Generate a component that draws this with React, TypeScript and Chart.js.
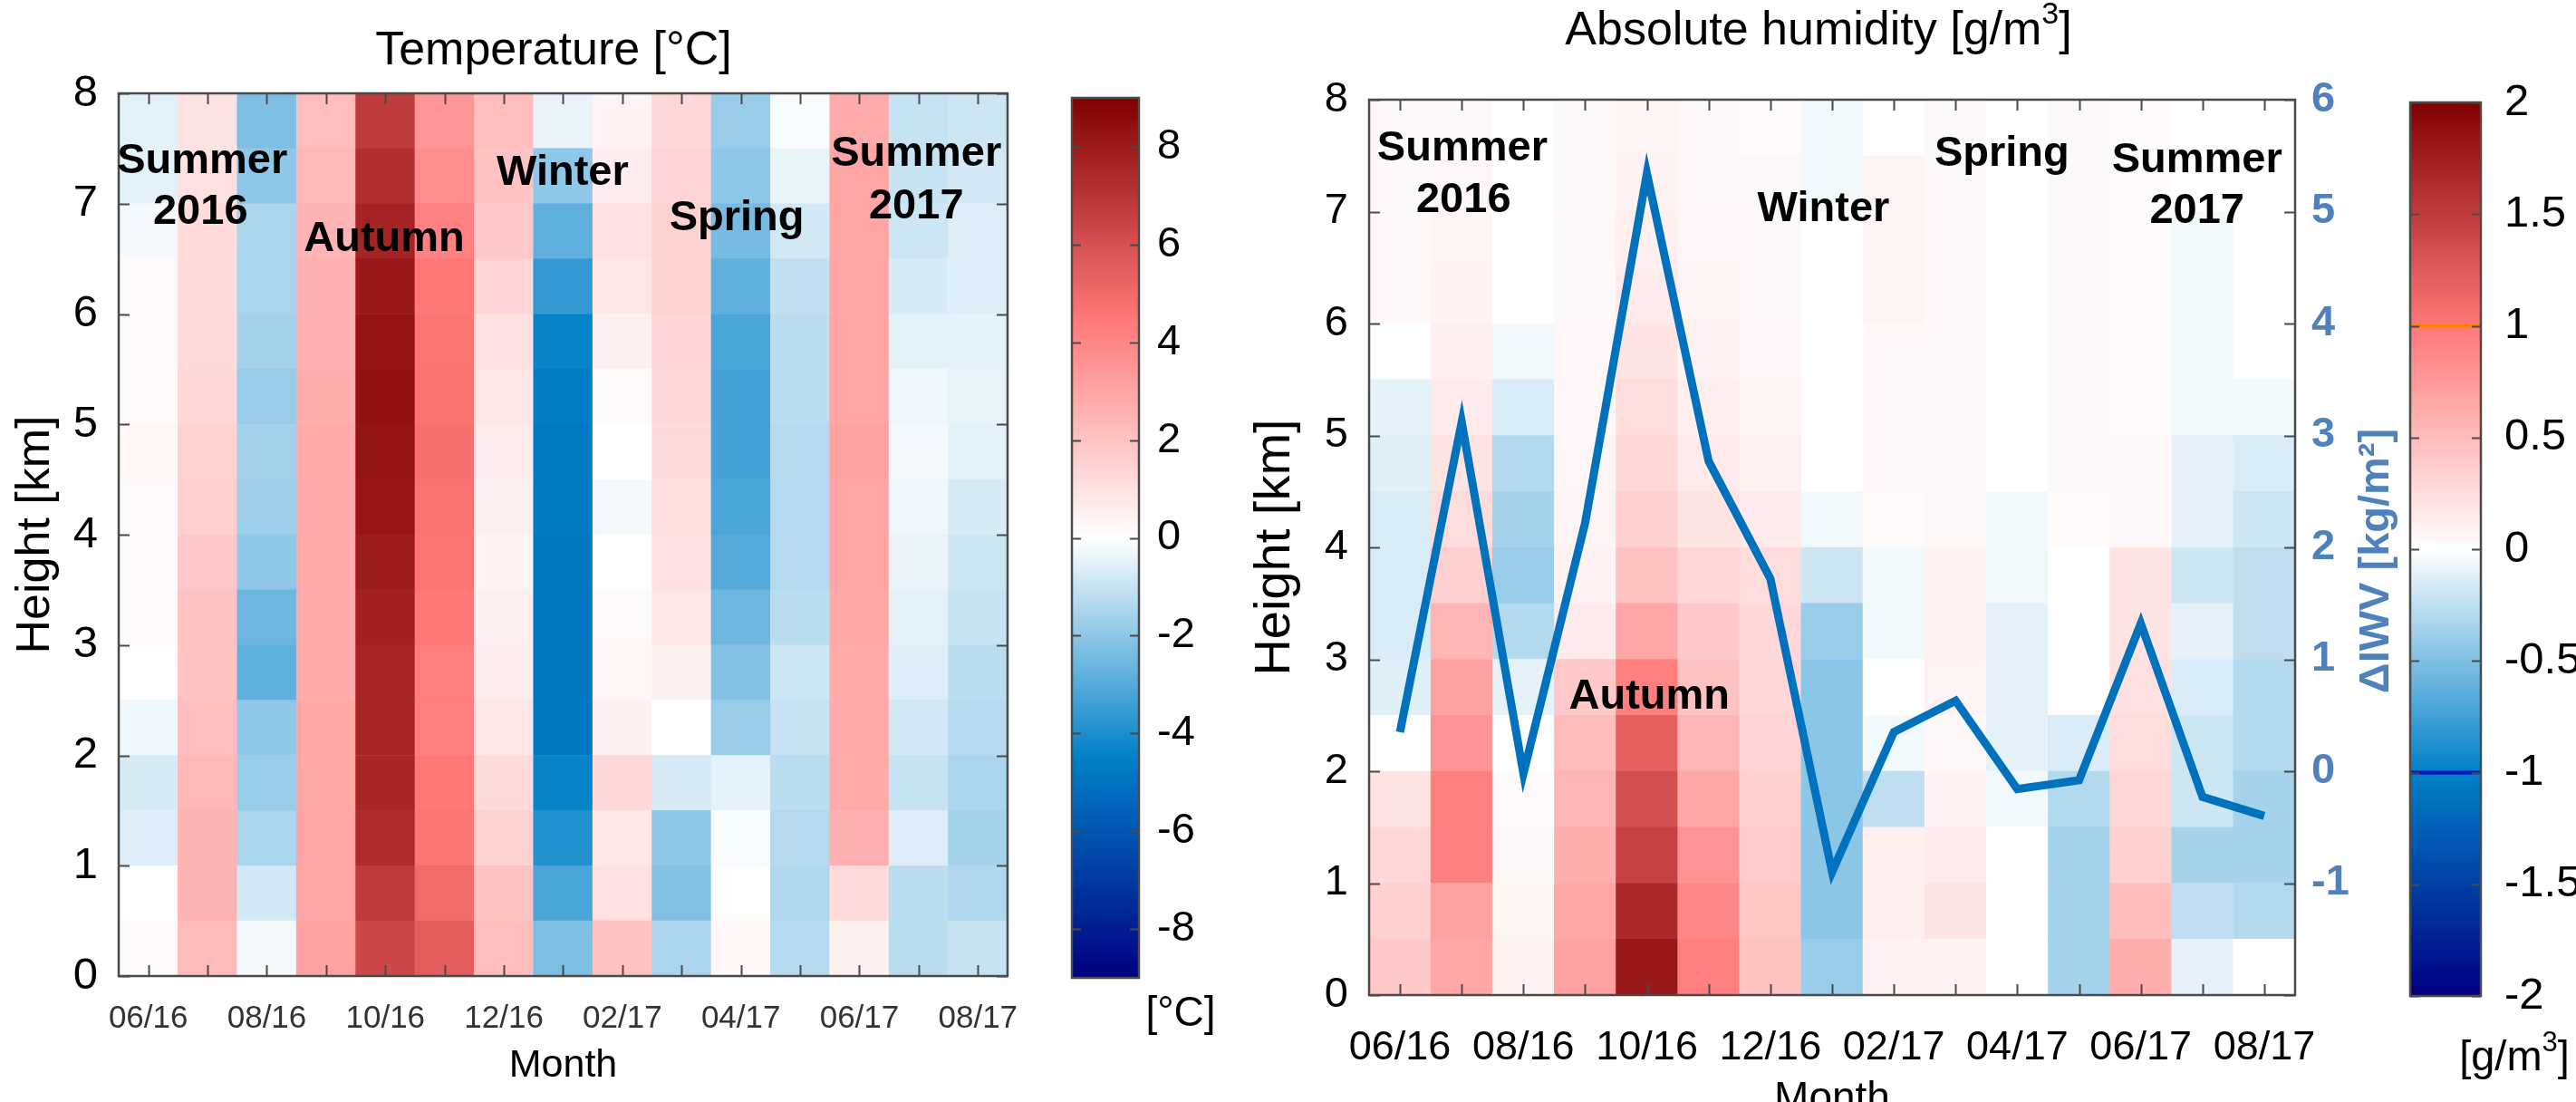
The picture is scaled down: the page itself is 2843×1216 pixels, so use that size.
import React, { useEffect, useRef } from "react";
import { Chart, registerables } from "chart.js";
Chart.register(...registerables);

const FONT = "'Liberation Sans', Arial, Helvetica, sans-serif";

// ---------- categories & axes ----------
const MONTHS = ["06/16", "07/16", "08/16", "09/16", "10/16", "11/16", "12/16", "01/17", "02/17", "03/17", "04/17", "05/17", "06/17", "07/17", "08/17"];
const HEIGHT_EDGES_KM = [0, 0.5, 1, 1.5, 2, 2.5, 3, 3.5, 4, 4.5, 5, 5.5, 6, 6.5, 7, 7.5, 8];
const HEIGHT_TICKS = [0, 1, 2, 3, 4, 5, 6, 7, 8];
const IWV_TICKS = [-2, -1, 0, 1, 2, 3, 4, 5, 6];
const TEMP_CB_TICKS = [-8, -6, -4, -2, 0, 2, 4, 6, 8];
const HUM_CB_TICKS = [-2, -1.5, -1, -0.5, 0, 0.5, 1, 1.5, 2];
const TEMP_LIMIT = 9;
const HUM_LIMIT = 2;

// ---------- temperature anomaly [°C], bins 0-0.5 km ... 7.5-8 km ----------
const T_0616 = [0.2, 0.0, -0.6, -0.7, -0.3, 0.1, 0.2, 0.2, 0.2, 0.3, 0.2, 0.2, 0.2, -0.2, -0.5, -0.5];
const T_0716 = [2.3, 2.5, 2.5, 2.4, 2.2, 2.0, 2.0, 1.8, 1.6, 1.5, 1.3, 1.2, 1.2, 1.2, 1.0, 0.9];
const T_0816 = [-0.2, -0.8, -1.5, -1.8, -2.0, -2.8, -2.6, -2.0, -1.7, -1.6, -1.8, -1.6, -1.5, -1.5, -2.0, -2.3];
const T_0916 = [3.1, 3.0, 3.0, 2.9, 2.9, 2.8, 2.8, 2.8, 2.8, 2.8, 2.7, 2.6, 2.6, 2.5, 2.4, 2.2];
const T_1016 = [6.3, 6.8, 7.4, 7.6, 7.6, 7.6, 7.8, 8.0, 8.2, 8.3, 8.4, 8.3, 8.1, 7.7, 7.2, 6.8];
const T_1116 = [5.5, 5.0, 4.6, 4.5, 4.3, 4.3, 4.5, 4.6, 4.7, 4.8, 4.7, 4.6, 4.5, 4.2, 3.8, 3.5];
const T_1216 = [2.2, 2.0, 1.5, 1.2, 0.8, 0.6, 0.5, 0.4, 0.5, 0.6, 0.8, 1.0, 1.4, 1.8, 2.0, 2.2];
const T_0117 = [-2.3, -3.2, -3.9, -4.4, -4.8, -4.8, -4.8, -4.8, -4.7, -4.7, -4.6, -4.4, -3.6, -2.8, -2.0, -0.4];
const T_0217 = [2.0, 1.0, 0.8, 1.3, 0.5, 0.3, 0.2, 0.0, -0.2, 0.0, 0.2, 0.5, 0.8, 1.0, 0.6, 0.4];
const T_0317 = [-1.5, -2.2, -2.0, -0.7, 0.0, 0.5, 0.8, 1.0, 1.1, 1.2, 1.3, 1.4, 1.5, 1.5, 1.4, 1.3];
const T_0417 = [0.3, 0.1, -0.1, -0.5, -1.8, -2.2, -2.6, -3.0, -3.2, -3.3, -3.3, -3.2, -2.8, -2.4, -2.0, -1.8];
const T_0517 = [-1.3, -1.4, -1.3, -1.2, -1.0, -0.9, -1.2, -1.3, -1.3, -1.3, -1.2, -1.2, -1.1, -0.8, -0.4, -0.1];
const T_0617 = [0.5, 1.2, 2.6, 2.8, 2.8, 2.8, 2.9, 3.0, 3.0, 3.1, 3.0, 3.0, 3.0, 3.0, 3.0, 2.8];
const T_0717 = [-1.2, -1.2, -0.6, -1.0, -0.8, -0.6, -0.5, -0.4, -0.3, -0.2, -0.3, -0.5, -0.7, -0.9, -1.0, -1.0];
const T_0817 = [-1.0, -1.4, -1.6, -1.5, -1.3, -1.2, -1.0, -0.9, -0.7, -0.5, -0.4, -0.5, -0.6, -0.6, -0.8, -0.9];
const TEMP_COLUMNS = [T_0616, T_0716, T_0816, T_0916, T_1016, T_1116, T_1216, T_0117, T_0217, T_0317, T_0417, T_0517, T_0617, T_0717, T_0817];

// ---------- absolute humidity anomaly [g/m³] ----------
const H_0616 = [0.4, 0.35, 0.3, 0.2, 0.0, -0.12, -0.15, -0.15, -0.15, -0.12, -0.1, 0.0, 0.05, 0.05, 0.05, 0.05];
const H_0716 = [0.65, 0.7, 0.95, 0.95, 0.8, 0.7, 0.55, 0.35, 0.25, 0.2, 0.15, 0.12, 0.1, 0.08, 0.06, 0.05];
const H_0816 = [0.1, 0.08, 0.05, 0.03, 0.0, -0.1, -0.3, -0.4, -0.35, -0.3, -0.15, -0.05, 0.0, 0.0, 0.0, 0.0];
const H_0916 = [0.7, 0.65, 0.6, 0.55, 0.5, 0.4, 0.15, 0.1, 0.08, 0.06, 0.06, 0.06, 0.05, 0.05, 0.05, 0.05];
const H_1016 = [1.8, 1.65, 1.45, 1.35, 1.2, 0.95, 0.65, 0.45, 0.35, 0.3, 0.25, 0.2, 0.15, 0.12, 0.1, 0.08];
const H_1116 = [0.95, 0.9, 0.8, 0.65, 0.55, 0.45, 0.4, 0.3, 0.2, 0.15, 0.12, 0.1, 0.08, 0.06, 0.05, 0.05];
const H_1216 = [0.45, 0.42, 0.38, 0.35, 0.32, 0.3, 0.28, 0.25, 0.15, 0.1, 0.08, 0.06, 0.05, 0.05, 0.05, 0.03];
const H_0117 = [-0.4, -0.45, -0.45, -0.45, -0.45, -0.45, -0.4, -0.2, -0.05, 0.0, 0.0, 0.0, 0.0, 0.0, -0.05, -0.05];
const H_0217 = [0.1, 0.12, 0.12, -0.25, -0.05, 0.0, -0.05, -0.05, 0.03, 0.05, 0.05, 0.05, 0.08, 0.08, 0.08, 0.0];
const H_0317 = [0.1, 0.2, 0.15, 0.1, 0.05, 0.08, 0.1, 0.1, 0.05, 0.05, 0.05, 0.05, 0.05, 0.05, 0.05, 0.05];
const H_0417 = [0.0, 0.0, 0.0, -0.05, -0.1, -0.1, -0.1, -0.05, -0.05, 0.0, 0.0, 0.0, 0.0, 0.0, 0.0, 0.0];
const H_0517 = [-0.35, -0.35, -0.35, -0.3, -0.15, 0.0, 0.0, 0.0, 0.03, 0.05, 0.05, 0.05, 0.05, 0.05, 0.05, 0.05];
const H_0617 = [0.6, 0.5, 0.35, 0.3, 0.25, 0.22, 0.2, 0.2, 0.05, 0.05, 0.03, 0.03, 0.03, 0.03, 0.03, 0.03];
const H_0717 = [-0.1, -0.25, -0.35, -0.2, -0.2, -0.15, -0.1, -0.2, -0.1, -0.1, -0.05, -0.05, -0.05, -0.05, 0.0, 0.0];
const H_0817 = [0.0, -0.3, -0.35, -0.35, -0.3, -0.3, -0.25, -0.25, -0.2, -0.15, -0.05, 0.0, 0.0, 0.0, 0.0, 0.0];
const HUM_COLUMNS = [H_0616, H_0716, H_0816, H_0916, H_1016, H_1116, H_1216, H_0117, H_0217, H_0317, H_0417, H_0517, H_0617, H_0717, H_0817];

// ---------- ΔIWV [kg/m²] ----------
const IWV_ANOMALY = [0.35, 3.12, -0.02, 2.22, 5.34, 2.77, 1.72, -0.9, 0.35, 0.63, -0.16, -0.08, 1.32, -0.23, -0.4];

// ---------- season annotations (month index, height km) ----------
const TEMP_SEASON_TEXT = ["Summer", "2016", "Autumn", "Winter", "Spring", "Summer", "2017"];
const TEMP_SEASON_MONTH = [0.91, 0.88, 3.98, 6.99, 9.93, 12.96, 12.96];
const TEMP_SEASON_KM = [7.38, 6.92, 6.68, 7.28, 6.87, 7.45, 6.97];
const HUM_SEASON_TEXT = ["Summer", "2016", "Autumn", "Winter", "Spring", "Summer", "2017"];
const HUM_SEASON_MONTH = [1.01, 1.03, 4.04, 6.86, 9.75, 12.91, 12.91];
const HUM_SEASON_KM = [7.56, 7.1, 2.66, 7.02, 7.51, 7.46, 7.0];

// ---------- colormap ----------
const CMAP_POS = [-1, -0.5, 0, 0.5, 1];
const CMAP_RGB = [[0, 0, 128], [0, 128, 200], [255, 255, 255], [255, 120, 120], [128, 0, 0]];
function cmap(t: number): string {
  const v = Math.max(-1, Math.min(1, t));
  let i = 0;
  while (i < CMAP_POS.length - 2 && v > CMAP_POS[i + 1]) i++;
  const f = (v - CMAP_POS[i]) / (CMAP_POS[i + 1] - CMAP_POS[i]);
  const a = CMAP_RGB[i], b = CMAP_RGB[i + 1];
  const c = a.map((x, k) => Math.round(x + (b[k] - x) * f));
  return `rgb(${c[0]},${c[1]},${c[2]})`;
}

function heatDatasets(cols: number[][], limit: number) {
  return HEIGHT_EDGES_KM.slice(0, -1).map((lo, r) => ({
    type: "bar" as const,
    label: `${lo} km`,
    data: cols.map(() => [lo, HEIGHT_EDGES_KM[r + 1]]),
    backgroundColor: cols.map((col) => cmap(col[r] / limit)),
    borderWidth: 0,
    barPercentage: 1,
    categoryPercentage: 1,
    grouped: false,
    yAxisID: "y",
    order: 1,
  }));
}

type Part = { t: string; sup?: boolean };
function drawParts(ctx: CanvasRenderingContext2D, parts: Part[], cx: number, cy: number, size: number, weight: string, color: string, rotation = 0) {
  ctx.save();
  ctx.translate(cx, cy);
  ctx.rotate(rotation);
  ctx.fillStyle = color;
  ctx.textBaseline = "middle";
  ctx.textAlign = "left";
  const supSize = Math.round(size * 0.66);
  const widths = parts.map((p) => {
    ctx.font = `${weight} ${p.sup ? supSize : size}px ${FONT}`;
    return ctx.measureText(p.t).width;
  });
  const total = widths.reduce((s, w) => s + w, 0);
  let x = -total / 2;
  parts.forEach((p, i) => {
    ctx.font = `${weight} ${p.sup ? supSize : size}px ${FONT}`;
    ctx.fillText(p.t, x, p.sup ? -size * 0.36 : 0);
    x += widths[i];
  });
  ctx.restore();
}

const FRAME_COLOR = "#4a4a4a";

function framePlugin(id: string, tickLen: number, withX: boolean) {
  return {
    id,
    afterDatasetsDraw(chart: any) {
      const { ctx, chartArea: a } = chart;
      ctx.save();
      ctx.strokeStyle = FRAME_COLOR;
      ctx.lineWidth = 2;
      ctx.beginPath();
      if (withX) {
        const xs = chart.scales.x;
        xs.ticks.forEach((_: any, i: number) => {
          const px = Math.round(xs.getPixelForTick(i)) + 0.5;
          ctx.moveTo(px, a.bottom); ctx.lineTo(px, a.bottom - tickLen);
          ctx.moveTo(px, a.top); ctx.lineTo(px, a.top + tickLen);
        });
      }
      const ys = chart.scales.y;
      ys.ticks.forEach((t: any) => {
        const py = Math.round(ys.getPixelForValue(t.value)) + 0.5;
        ctx.moveTo(a.left, py); ctx.lineTo(a.left + tickLen, py);
        ctx.moveTo(a.right, py); ctx.lineTo(a.right - tickLen, py);
      });
      ctx.stroke();
      ctx.lineWidth = 2.5;
      ctx.strokeRect(a.left, a.top, a.right - a.left, a.bottom - a.top);
      ctx.restore();
    },
  };
}

function colorbarFill(id: string, limit: number, marks: { v: number; c: string; w: number }[]) {
  return {
    id,
    beforeDatasetsDraw(chart: any) {
      const { ctx, chartArea: a } = chart;
      const ys = chart.scales.y;
      const top = ys.getPixelForValue(limit);
      const bot = ys.getPixelForValue(-limit);
      const g = ctx.createLinearGradient(0, top, 0, bot);
      CMAP_POS.forEach((p, i) => {
        const c = CMAP_RGB[i];
        g.addColorStop((1 - p) / 2, `rgb(${c[0]},${c[1]},${c[2]})`);
      });
      ctx.save();
      ctx.fillStyle = g;
      ctx.fillRect(a.left, top, a.right - a.left, bot - top);
      marks.forEach((m) => {
        const py = ys.getPixelForValue(m.v);
        ctx.strokeStyle = m.c;
        ctx.lineWidth = m.w;
        ctx.beginPath();
        ctx.moveTo(a.left, py); ctx.lineTo(a.right, py);
        ctx.stroke();
      });
      ctx.restore();
    },
  };
}

function textPlugin(id: string, draw: (chart: any, ctx: CanvasRenderingContext2D) => void) {
  return {
    id,
    afterDraw(chart: any) {
      draw(chart, chart.ctx);
    },
  };
}

function seasonDraw(texts: string[], months: number[], kms: number[], size: number) {
  return (chart: any, ctx: CanvasRenderingContext2D) => {
    const xs = chart.scales.x, ys = chart.scales.y;
    texts.forEach((t, i) => {
      drawParts(ctx, [{ t }], xs.getPixelForValue(months[i]), ys.getPixelForValue(kms[i]), size, "bold", "#000");
    });
  };
}

const hidden = { display: false, grid: { display: false }, border: { display: false } };

export default function App() {
  const aRef = useRef<HTMLCanvasElement>(null);
  const bRef = useRef<HTMLCanvasElement>(null);
  const cRef = useRef<HTMLCanvasElement>(null);
  const dRef = useRef<HTMLCanvasElement>(null);

  useEffect(() => {
    const charts: Chart[] = [];
    const noPlug = { legend: { display: false }, tooltip: { enabled: false }, title: { display: false } };

    // ---- Left heatmap: temperature ----
    charts.push(
      new Chart(aRef.current!, {
        type: "bar",
        data: { labels: MONTHS, datasets: heatDatasets(TEMP_COLUMNS, TEMP_LIMIT) as any },
        options: {
          responsive: false,
          animation: false,
          layout: { padding: { left: 0, right: 28, top: 103, bottom: 0 } },
          plugins: noPlug as any,
          scales: {
            x: {
              type: "category",
              offset: true,
              grid: { display: false, drawTicks: false },
              border: { display: false },
              ticks: {
                autoSkip: false, maxRotation: 0, minRotation: 0, padding: 26, color: "#333",
                font: { family: FONT, size: 35 },
                callback: (_v: any, i: number) => (i % 2 === 0 ? MONTHS[i] : ""),
              },
              title: { display: true, text: "Month", color: "#000", font: { family: FONT, size: 43 }, padding: { top: 0, bottom: 14 } },
              afterFit: (s: any) => { s.height = 139; },
            },
            y: {
              type: "linear", min: 0, max: 8,
              grid: { display: false, drawTicks: false },
              border: { display: false },
              afterBuildTicks: (s: any) => { s.ticks = HEIGHT_TICKS.map((v) => ({ value: v })); },
              ticks: { padding: 23, color: "#000", font: { family: FONT, size: 49 }, callback: (v: any) => String(v) },
              title: { display: true, text: "Height [km]", color: "#000", font: { family: FONT, size: 52 }, padding: { top: 8, bottom: 0 } },
              afterFit: (s: any) => { s.width = 131; },
            },
          },
        } as any,
        plugins: [
          framePlugin("frameA", 12, true),
          textPlugin("textA", (chart, ctx) => {
            drawParts(ctx, [{ t: "Temperature [°C]" }], 611, 57, 52, "normal", "#000");
            seasonDraw(TEMP_SEASON_TEXT, TEMP_SEASON_MONTH, TEMP_SEASON_KM, 47)(chart, ctx);
          }),
        ],
      })
    );

    // ---- Left colorbar ----
    charts.push(
      new Chart(bRef.current!, {
        type: "bar",
        data: { labels: [""], datasets: [] },
        options: {
          responsive: false,
          animation: false,
          layout: { padding: { left: 43, right: 0, top: 108, bottom: 137 } },
          plugins: noPlug as any,
          scales: {
            x: hidden,
            y: {
              type: "linear", position: "right", min: -TEMP_LIMIT, max: TEMP_LIMIT,
              grid: { display: false, drawTicks: false },
              border: { display: false },
              afterBuildTicks: (s: any) => { s.ticks = TEMP_CB_TICKS.map((v) => ({ value: v })); },
              ticks: { padding: 20, color: "#000", font: { family: FONT, size: 47 }, callback: (v: any) => String(v) },
              afterFit: (s: any) => { s.width = 143; },
            },
          },
        } as any,
        plugins: [
          colorbarFill("cbA", TEMP_LIMIT, []),
          framePlugin("frameB", 10, false),
          textPlugin("textB", (_chart, ctx) => {
            drawParts(ctx, [{ t: "[°C]" }], 163, 1119, 46, "normal", "#000");
          }),
        ],
      })
    );

    // ---- Right heatmap: absolute humidity + ΔIWV ----
    const lineDs = {
      type: "line" as const,
      label: "ΔIWV",
      data: IWV_ANOMALY,
      yAxisID: "y1",
      borderColor: "#0072BD",
      borderWidth: 9,
      pointRadius: 0,
      tension: 0,
      borderJoinStyle: "miter",
      borderCapStyle: "butt",
      fill: false,
      order: 0,
    };
    charts.push(
      new Chart(cRef.current!, {
        type: "bar",
        data: { labels: MONTHS, datasets: [...(heatDatasets(HUM_COLUMNS, HUM_LIMIT) as any), lineDs] },
        options: {
          responsive: false,
          animation: false,
          layout: { padding: { left: 0, right: 0, top: 110, bottom: 0 } },
          plugins: noPlug as any,
          scales: {
            x: {
              type: "category",
              offset: true,
              grid: { display: false, drawTicks: false },
              border: { display: false },
              ticks: {
                autoSkip: false, maxRotation: 0, minRotation: 0, padding: 32, color: "#000",
                font: { family: FONT, size: 45 },
                callback: (_v: any, i: number) => (i % 2 === 0 ? MONTHS[i] : ""),
              },
              title: { display: true, text: "Month", color: "#000", font: { family: FONT, size: 46 }, padding: { top: 0, bottom: 59 } },
              afterFit: (s: any) => { s.height = 202; },
            },
            y: {
              type: "linear", min: 0, max: 8,
              grid: { display: false, drawTicks: false },
              border: { display: false },
              afterBuildTicks: (s: any) => { s.ticks = HEIGHT_TICKS.map((v) => ({ value: v })); },
              ticks: { padding: 23, color: "#000", font: { family: FONT, size: 47 }, callback: (v: any) => String(v) },
              title: { display: true, text: "Height [km]", color: "#000", font: { family: FONT, size: 56 }, padding: { top: 44, bottom: 0 } },
              afterFit: (s: any) => { s.width = 181; },
            },
            y1: {
              type: "linear", position: "right", min: -2, max: 6,
              grid: { display: false, drawTicks: false },
              border: { display: false },
              afterBuildTicks: (s: any) => { s.ticks = IWV_TICKS.map((v) => ({ value: v })); },
              ticks: {
                padding: 18, color: "#4F81BD", font: { family: FONT, size: 47, weight: "bold" },
                callback: (v: any) => (v === -2 ? "" : String(v)),
              },
              afterFit: (s: any) => { s.width = 117; },
            },
          },
        } as any,
        plugins: [
          framePlugin("frameC", 12, true),
          textPlugin("textC", (chart, ctx) => {
            drawParts(ctx, [{ t: "Absolute humidity [g/m" }, { t: "3", sup: true }, { t: "]" }], 677, 35, 52, "normal", "#000");
            drawParts(ctx, [{ t: "ΔIWV [kg/m²]" }], 1293, 619, 47, "bold", "#4F81BD", -Math.PI / 2);
            seasonDraw(HUM_SEASON_TEXT, HUM_SEASON_MONTH, HUM_SEASON_KM, 47)(chart, ctx);
          }),
        ],
      })
    );

    // ---- Right colorbar ----
    charts.push(
      new Chart(dRef.current!, {
        type: "bar",
        data: { labels: [""], datasets: [] },
        options: {
          responsive: false,
          animation: false,
          layout: { padding: { left: 50, right: 0, top: 113, bottom: 117 } },
          plugins: noPlug as any,
          scales: {
            x: hidden,
            y: {
              type: "linear", position: "right", min: -HUM_LIMIT, max: HUM_LIMIT,
              grid: { display: false, drawTicks: false },
              border: { display: false },
              afterBuildTicks: (s: any) => { s.ticks = HUM_CB_TICKS.map((v) => ({ value: v })); },
              ticks: { padding: 26, color: "#000", font: { family: FONT, size: 49 }, callback: (v: any) => String(v) },
              afterFit: (s: any) => { s.width = 105; },
            },
          },
        } as any,
        plugins: [
          colorbarFill("cbD", HUM_LIMIT, [
            { v: 1, c: "#ff7f00", w: 3 },
            { v: -1, c: "#0010c0", w: 4 },
          ]),
          framePlugin("frameD", 10, false),
          textPlugin("textD", (_chart, ctx) => {
            drawParts(ctx, [{ t: "[g/m" }, { t: "3", sup: true }, { t: "]" }], 165, 1168, 47, "normal", "#000");
          }),
        ],
      })
    );

    return () => charts.forEach((c) => c.destroy());
  }, []);

  const abs = (left: number): React.CSSProperties => ({ position: "absolute", left, top: 0 });
  return (
    <div style={{ position: "absolute", left: 0, top: 0, width: 2843, height: 1216, overflow: "hidden", background: "#fff" }}>
      <canvas ref={aRef} width={1150} height={1216} style={{ ...abs(0), width: 1150, height: 1216 }} />
      <canvas ref={bRef} width={260} height={1216} style={{ ...abs(1140), width: 260, height: 1216 }} />
      <canvas ref={cRef} width={1320} height={1300} style={{ ...abs(1330), width: 1320, height: 1300 }} />
      <canvas ref={dRef} width={233} height={1216} style={{ ...abs(2610), width: 233, height: 1216 }} />
    </div>
  );
}
